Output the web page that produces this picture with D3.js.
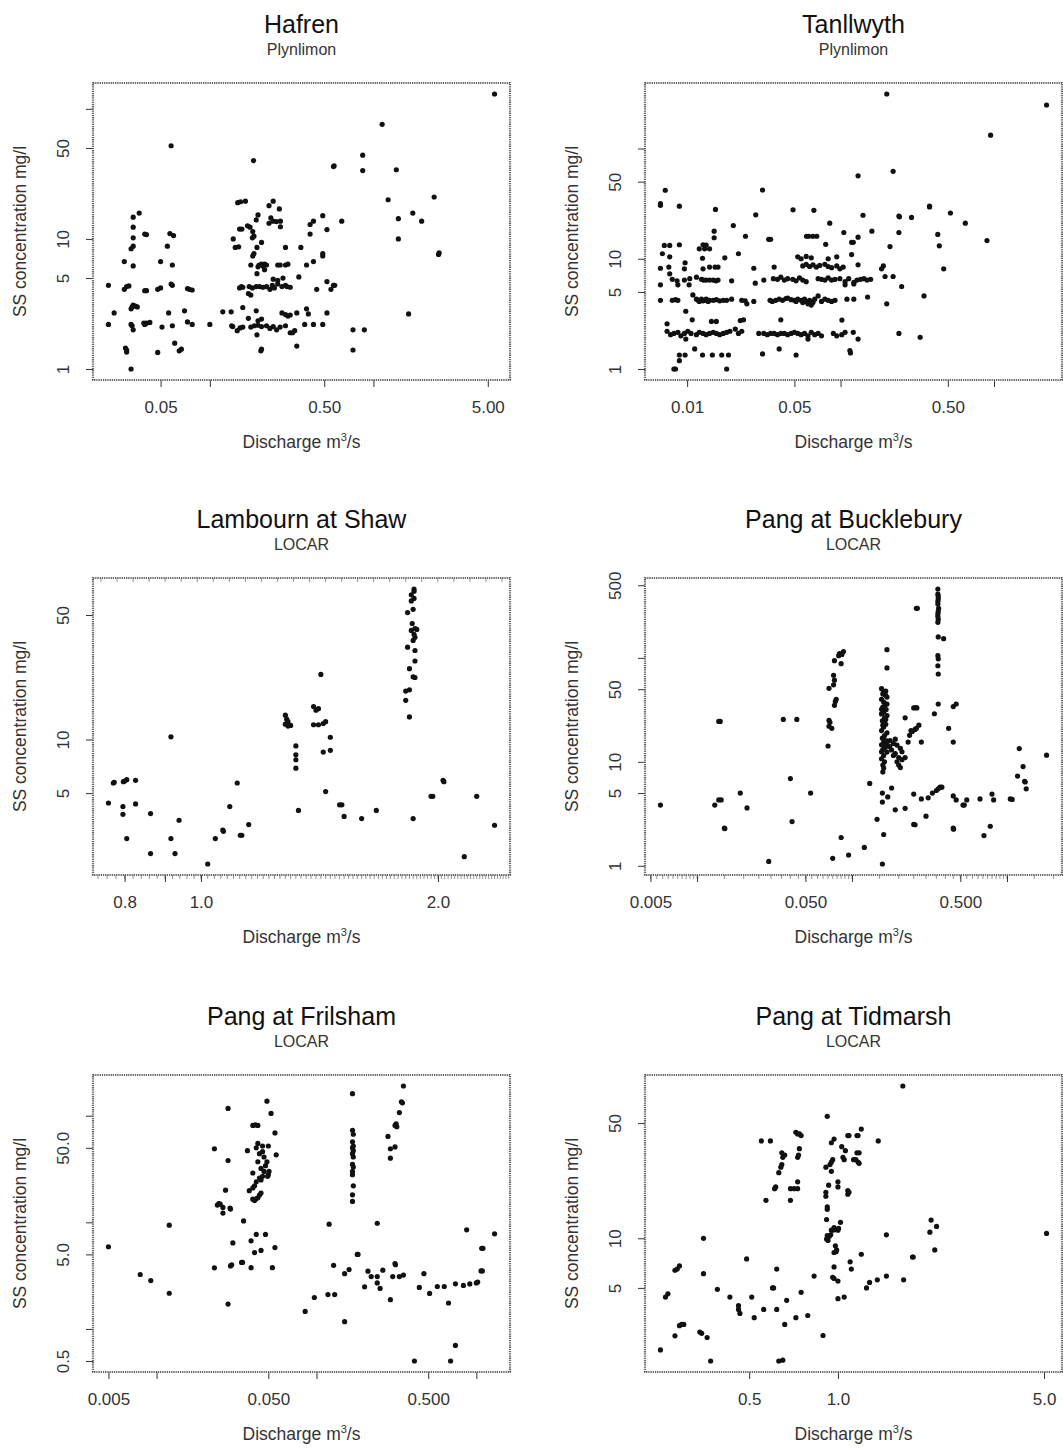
<!DOCTYPE html>
<html>
<head>
<meta charset="utf-8">
<script src="https://cdn.jsdelivr.net/npm/d3@7"></script>
<style>
  body { margin: 0; background: #fff; }
  svg { display: block; }
  text { font-family: "Liberation Sans", Arial, Helvetica, sans-serif; }
</style>
</head>
<body>
<svg id="chart" width="1063" height="1448"></svg>
<script>
// Suspended sediment (SS) concentration vs. discharge, six catchments.
// Each sample is [discharge m3/s, SS concentration mg/l].

const hafren = [
  [5.5,130],[1.13,76],[0.058,52],[0.185,40],[0.57,36],[0.575,36.5],[0.86,44],[0.86,33.5],[1.38,34],[1.23,20],
  [2.35,21],[1.42,14.3],[1.74,15.8],[1.97,13.7],[1.42,10],[1.64,2.65],[2.5,7.6],[2.52,7.8],
  [0.64,13.7],[0.52,11.8],[0.49,15.1],[0.43,13.7],[0.41,12.9],[0.41,10.9],[0.36,8.6],[0.29,8.6],[0.49,7.7],[0.49,7.4],
  [0.43,6.7],[0.39,6.3],[0.35,5.1],[0.52,4.7],[0.55,4.1],[0.57,4.4],[0.58,4.4],[0.45,4.1],[0.52,2.7],[0.49,2.2],
  [0.43,2.2],[0.38,2.2],[0.39,2.9],[0.4,2.65],[0.34,2.7],[0.3,2.55],[0.31,2.6],[0.31,1.9],[0.32,1.9],[0.33,1.97],
  [0.34,1.5],[0.75,2.0],[0.75,1.4],[0.88,2.0],[0.29,2.15],
  [0.136,2.15],[0.138,2.12],[0.147,1.97],[0.153,2.07],[0.159,2.1],[0.178,2.1],[0.187,2.15],[0.197,2.17],[0.207,2.12],
  [0.222,2.15],[0.233,2.05],[0.244,2.12],[0.256,2.0],[0.269,2.1],
  [0.12,2.75],[0.135,2.75],[0.159,2.97],[0.192,2.8],[0.276,2.7],[0.29,2.62],
  [0.172,2.45],[0.197,2.35],[0.207,2.42],[0.194,1.83],[0.205,1.38],[0.207,1.42],
  [0.152,4.2],[0.156,4.3],[0.159,4.25],[0.174,4.3],[0.182,4.2],[0.192,4.3],[0.201,4.3],[0.211,4.25],[0.222,4.3],
  [0.233,4.1],[0.241,4.4],[0.248,4.2],[0.26,4.5],[0.276,4.3],[0.29,4.4],[0.296,4.3],[0.31,4.25],
  [0.172,3.8],[0.178,3.7],[0.244,4.9],[0.26,4.8],[0.28,5.0],
  [0.178,6.3],[0.197,6.1],[0.2,6.3],[0.207,6.4],[0.211,6.2],[0.216,6.4],[0.222,6.3],[0.26,6.3],[0.269,6.3],[0.29,6.3],[0.3,6.4],
  [0.194,5.4],[0.216,5.8],[0.186,7.7],[0.183,7.4],[0.194,8.6],[0.207,9.4],[0.143,8.6],[0.15,8.7],[0.139,10],
  [0.152,11.9],[0.157,11.9],[0.176,12.3],[0.183,11.4],[0.186,10.5],[0.182,10.2],[0.17,12.6],[0.192,14],[0.197,15.3],
  [0.23,13.2],[0.236,14.5],[0.243,13.7],[0.255,13.6],[0.27,13.7],[0.27,12.4],[0.23,18],[0.244,19.5],[0.266,17],
  [0.148,19],[0.154,19.3],[0.165,19.5],
  [0.024,4.4],[0.024,2.2],[0.026,2.7],[0.03,6.7],[0.03,4.1],[0.031,4.3],[0.032,4.35],[0.031,1.4],[0.031,1.35],
  [0.0305,1.45],[0.033,2.2],[0.0335,2.15],[0.034,2.0],[0.033,2.9],[0.0335,3.0],[0.034,3.1],[0.035,3.05],[0.036,3.0],
  [0.033,8.4],[0.034,8.8],[0.034,10.2],[0.034,12.3],[0.034,14.7],[0.037,15.8],[0.034,6.2],[0.033,1.0],[0.04,10.9],
  [0.041,10.8],[0.04,2.2],[0.041,2.25],[0.043,2.28],[0.0395,2.25],[0.04,4.0],[0.041,4.0],[0.048,1.34],[0.048,4.1],
  [0.05,4.2],[0.05,6.7],[0.051,2.1],[0.055,8.8],[0.056,2.7],[0.057,11],[0.06,10.6],[0.058,4.5],[0.059,4.4],
  [0.059,6.3],[0.059,2.15],[0.061,1.58],[0.065,1.38],[0.067,1.42],[0.07,2.8],[0.073,4.15],[0.075,4.1],[0.078,4.05],
  [0.073,2.3],[0.078,2.2],[0.1,2.2]
];

const tanllwyth = [
  [0.2,312],[2.2,248],[0.95,132],[0.22,62],[0.13,56.5],[0.0072,41.8],[0.0067,31.6],[0.0067,30.5],[0.0089,30],[0.031,42],
  [0.0153,28],[0.028,25],[0.049,27.8],[0.067,27.5],[0.14,24.8],[0.38,30],[0.38,29.5],[0.52,26],[0.24,24.4],[0.242,24],
  [0.29,23.7],[0.085,21],[0.65,21],[0.02,20],[0.16,17.8],[0.24,17.3],[0.43,16.6],[0.015,17.8],[0.015,15.5],[0.024,16],
  [0.034,15],[0.035,15],[0.06,16],[0.062,16],[0.066,16],[0.07,16],[0.105,17.3],[0.118,14.1],[0.121,14.1],[0.13,15.7],
  [0.08,13.5],[0.21,12.9],[0.44,13.1],[0.9,14.6],[0.47,8.1],[0.118,10.9],[0.13,8.8],[0.19,8.6],[0.185,8.1],[0.195,6.9],
  [0.22,6.9],[0.25,5.6],[0.15,4.5],[0.2,3.9],[0.35,4.6],[0.24,2.1],[0.33,1.94],[0.115,1.47],[0.116,1.4],
  [0.0074,2.2],[0.0078,2.05],[0.0082,2.1],[0.0087,2.15],[0.0091,2.0],[0.0096,2.1],[0.0101,2.2],[0.0106,2.1],[0.0115,2.05],
  [0.012,2.15],[0.0127,2.1],[0.0133,2.05],[0.014,2.1],[0.0148,2.15],[0.0155,2.1],[0.0163,2.05],[0.0172,2.1],[0.0181,2.15],
  [0.019,2.2],[0.0206,2.3],[0.0216,2.1],[0.0227,2.2],
  [0.0293,2.1],[0.0316,2.1],[0.0333,2.05],[0.035,2.1],[0.0369,2.1],[0.0388,2.05],[0.0408,2.1],[0.043,2.1],[0.0452,2.05],
  [0.0476,2.1],[0.05,2.15],[0.0526,2.1],[0.0553,2.05],[0.0582,2.1],[0.0613,2.0],[0.0644,2.15],[0.0678,2.05],[0.0714,2.1],
  [0.0751,2.0],[0.0897,2.1],[0.0944,2.0],[0.1018,2.05],[0.107,2.15],[0.0613,1.87],[0.0098,1.87],[0.121,2.15],[0.13,1.87],[0.102,2.78],
  [0.0067,4.2],[0.008,4.2],[0.0084,4.25],[0.0087,4.2],[0.0109,4.7],[0.0115,4.3],[0.0118,4.2],[0.012,4.1],[0.0124,4.3],
  [0.0127,4.15],[0.013,4.2],[0.0133,4.3],[0.0137,4.1],[0.014,4.2],[0.0148,4.2],[0.0155,4.25],[0.0163,4.15],[0.0172,4.2],
  [0.0181,4.2],[0.0195,4.3],[0.0227,4.2],[0.0239,4.15],[0.0245,3.9],[0.0272,4.1],[0.0347,4.2],[0.0359,4.1],[0.0378,4.2],
  [0.0398,4.3],[0.0419,4.2],[0.044,4.35],[0.0452,4.4],[0.0476,4.25],[0.05,4.2],[0.0513,4.1],[0.0526,4.3],[0.0553,4.2],
  [0.0567,4.0],[0.0582,4.3],[0.0597,4.1],[0.0613,3.9],[0.0628,4.2],[0.0644,3.8],[0.0661,4.0],[0.0678,4.3],[0.0714,4.6],
  [0.0751,4.1],[0.079,4.3],[0.083,4.2],[0.0874,4.1],[0.092,4.2],[0.11,4.3],[0.122,4.3],
  [0.0077,7.3],[0.008,6.5],[0.0086,6.3],[0.0096,6.4],[0.0104,6.6],[0.0115,6.8],[0.0124,6.5],[0.0128,6.4],[0.0133,6.4],
  [0.014,6.4],[0.0148,6.4],[0.0154,6.3],[0.0159,6.4],[0.0195,6.3],[0.0278,6.0],[0.0316,6.4],[0.0365,6.6],[0.0388,6.5],
  [0.0408,6.8],[0.043,6.4],[0.0452,6.6],[0.0488,6.5],[0.0513,6.3],[0.054,6.7],[0.0567,6.4],[0.0597,6.2],[0.0714,6.6],
  [0.0751,6.5],[0.079,6.4],[0.083,6.7],[0.0874,6.4],[0.092,6.5],[0.099,6.6],[0.107,6.2],[0.113,6.6],[0.122,6.1],
  [0.128,6.4],[0.135,6.5],[0.142,6.6],[0.149,6.4],[0.157,6.5],
  [0.0067,8.2],[0.0076,8.4],[0.0096,8.1],[0.0127,8.1],[0.014,8.4],[0.0152,8.4],[0.0159,8.4],[0.0272,8.2],[0.0369,8.4],
  [0.0567,8.6],[0.0597,8.9],[0.0628,8.5],[0.0661,8.8],[0.0695,8.4],[0.0731,8.7],[0.079,8.9],[0.083,8.5],[0.0874,8.3],
  [0.0944,8.6],[0.099,8.1],[0.104,8.4],
  [0.0069,11.1],[0.0077,10.4],[0.0097,9.2],[0.0126,10.1],[0.0176,10.2],[0.0216,11.1],[0.0526,10.4],[0.0553,10.0],
  [0.0597,10.5],[0.0644,10.2],[0.083,10.0],[0.0944,10.4],
  [0.012,12.3],[0.013,12.3],[0.014,12.3],[0.0071,13.2],[0.0077,13.2],[0.0089,13.4],[0.0127,13.4],[0.0133,13.3],
  [0.0067,5.8],[0.0087,5.8],[0.0103,5.8],[0.107,5.8],[0.122,5.9],
  [0.0108,2.79],[0.0144,2.7],[0.0155,2.7],[0.0222,2.75],[0.0233,2.79],[0.0408,2.79],[0.0098,3.34],[0.0074,2.57],
  [0.0089,1.34],[0.0097,1.34],[0.0126,1.34],[0.0146,1.34],[0.0168,1.34],[0.0186,1.34],[0.031,1.37],[0.0513,1.34],
  [0.0112,1.52],[0.0398,1.52],[0.0089,1.19],[0.0082,1.0],[0.0084,1.0],[0.0181,1.0]
];

const lambourn = [
  [0.763,4.4],[0.774,5.7],[0.776,5.75],[0.797,5.8],[0.8,5.85],[0.805,5.95],[0.826,5.9],[0.796,4.2],[0.796,3.8],
  [0.826,4.35],[0.805,2.78],[0.863,3.84],[0.863,2.29],[0.916,2.78],[0.927,2.29],[0.938,3.52],[0.916,10.35],[1.02,2.0],
  [1.043,2.78],[1.066,3.1],[1.068,3.05],[1.088,4.2],[1.112,5.7],[1.122,2.9],[1.127,2.9],[1.15,3.33],
  [1.28,13.7],[1.29,12.1],[1.3,12.0],[1.29,11.9],[1.28,12.2],[1.285,13.0],[1.29,12.6],[1.32,9.2],[1.32,8.2],[1.32,7.7],
  [1.32,6.9],[1.33,4.0],
  [1.39,15.3],[1.41,14.9],[1.4,14.6],[1.42,23.2],[1.39,12.1],[1.41,12.1],[1.43,12.3],[1.44,12.6],[1.46,10.3],[1.43,8.5],
  [1.46,8.7],[1.44,5.1],[1.5,4.3],[1.51,4.3],[1.52,3.7],[1.6,3.6],[1.67,4.0],[1.86,3.6],
  [1.82,16.6],[1.82,18.7],[1.84,13.4],[1.84,19],[1.86,22.5],[1.87,22.3],[1.84,25],[1.87,27.6],[1.87,31.6],[1.83,33],
  [1.86,36],[1.87,37.5],[1.865,39],[1.85,41],[1.87,42],[1.88,41.5],[1.855,44.8],[1.83,51.6],[1.86,53.8],[1.85,60],
  [1.865,62],[1.85,65],[1.865,68],[1.865,70],
  [2.03,5.9],[2.035,5.8],[1.96,4.8],[1.97,4.8],[2.24,4.8],[2.16,2.2],[2.36,3.3]
];

const bucklebury = [
  [0.0058,3.84],[0.013,3.84],[0.0138,4.3],[0.0143,4.3],[0.0138,24.5],[0.0141,24.5],[0.015,2.3],[0.0151,2.28],[0.019,5.0],
  [0.021,3.6],[0.029,1.1],[0.036,25.6],[0.044,25.6],[0.04,6.9],[0.041,2.66],[0.054,5.0],
  [0.07,14.2],[0.071,22],[0.072,24],[0.074,21],[0.071,25],[0.077,35],[0.078,38],[0.079,40],[0.071,51],[0.076,55],
  [0.077,61],[0.076,68],[0.077,94],[0.085,88],[0.082,105],[0.083,110],[0.086,108],[0.088,115],[0.075,1.18],[0.085,1.87],
  [0.095,1.27],[0.12,1.5],[0.13,6.2],[0.145,2.8],[0.157,1.04],[0.16,2.0],[0.157,4.1],[0.157,5.0],[0.17,4.6],[0.18,5.6],
  [0.168,80],[0.168,120],
  [0.155,50.6],[0.16,46.8],[0.164,44],[0.168,42],[0.155,40],[0.16,37.6],[0.164,35.4],[0.158,33.6],[0.166,31.8],
  [0.16,30],[0.155,28.9],[0.168,27.9],[0.162,26.3],[0.157,24.8],[0.165,23],[0.16,21.6],[0.155,20],[0.168,19],
  [0.162,17.9],[0.157,16.9],[0.166,16],[0.16,15.5],[0.155,14.6],[0.164,13.8],[0.158,13.1],[0.168,12.4],[0.16,11.5],
  [0.155,10.7],[0.162,10],[0.158,9.3],[0.16,8.7],[0.158,8.0],[0.165,48],[0.158,45],[0.168,36],[0.155,32],[0.165,25.5],
  [0.158,22.5],[0.168,14.8],[0.155,12.5],
  [0.176,16],[0.185,15],[0.195,14.5],[0.205,13.5],[0.18,13],[0.19,12],[0.2,11],[0.21,10.5],[0.195,10],[0.2,9.3],
  [0.205,8.8],[0.185,11.5],[0.175,14],[0.19,16.5],[0.21,12.5],[0.22,11],
  [0.19,3.45],[0.22,3.57],[0.22,26.5],[0.25,2.5],[0.255,2.48],[0.25,4.9],[0.25,33],[0.258,33.3],[0.262,33],[0.24,20],
  [0.245,19.6],[0.255,20.5],[0.26,21],[0.27,22.5],[0.28,15.5],[0.23,15.5],[0.235,18],[0.26,300],[0.264,300],[0.28,4.4],
  [0.31,4.5],[0.3,3.0],[0.34,29],[0.36,36],[0.33,5.0],[0.35,5.3],[0.36,5.5],[0.37,5.7],[0.38,5.7],
  [0.358,460],[0.358,410],[0.36,370],[0.358,330],[0.362,300],[0.358,265],[0.36,235],[0.358,220],[0.36,159],[0.39,153],
  [0.358,105],[0.36,98],[0.358,84],[0.36,70],[0.358,250],[0.36,280],[0.358,350],[0.36,390],
  [0.42,21],[0.45,34],[0.47,36],[0.45,15.5],[0.45,4.7],[0.47,4.3],[0.45,2.3],[0.452,2.25],[0.52,3.84],[0.53,3.84],
  [0.55,4.3],[0.67,4.4],[0.78,2.4],[0.71,1.95],[0.8,4.9],[0.82,4.3],[1.05,4.4],[1.08,4.35],[1.17,7.3],[1.2,13.4],
  [1.27,9.0],[1.3,6.5],[1.31,6.4],[1.33,5.5],[1.8,11.6]
];

const frilsham = [
  [0.005,5.9],[0.0079,3.24],[0.0092,2.84],[0.012,9.4],[0.012,2.16],[0.023,49],[0.023,3.74],[0.024,14.5],[0.0245,15],
  [0.025,14.8],[0.026,13.8],[0.026,12.2],[0.027,20],[0.028,117],[0.028,38],[0.028,1.71],[0.029,13.3],[0.0288,13.6],
  [0.029,3.9],[0.0295,4.0],[0.03,6.4],[0.034,4.2],[0.0345,4.2],[0.035,10.3],[0.037,47],[0.038,19.8],[0.04,81],
  [0.0415,82],[0.043,81],[0.039,6.7],[0.04,16.5],[0.041,16],[0.042,16.6],[0.043,17],[0.044,18],[0.039,3.75],[0.04,21],
  [0.041,22],[0.042,24],[0.044,26],[0.04,29],[0.041,5.2],[0.042,7.7],[0.048,7.7],[0.045,18.8],[0.045,5.45],
  [0.045,25],[0.046,27],[0.047,30],[0.048,34],[0.049,37],[0.047,41],[0.046,46],[0.046,52],[0.043,55],[0.042,50],
  [0.044,44],[0.045,32],[0.043,37],
  [0.049,137],[0.05,28],[0.0505,30],[0.0495,27],[0.05,52],[0.052,105],[0.053,3.75],[0.055,69],[0.055,5.8],[0.056,43],
  [0.085,1.46],[0.097,1.97],[0.12,9.6],[0.118,2.1],[0.13,2.1],[0.128,3.95],[0.15,1.17],[0.15,3.3],[0.16,3.6],[0.168,161],
  [0.168,73],[0.17,67],[0.168,57],[0.17,52],[0.168,50],[0.17,47],[0.168,44],[0.17,41],[0.168,35],[0.17,33],
  [0.168,30],[0.168,28],[0.17,22],[0.168,18.1],[0.168,15.7],
  [0.18,5.0],[0.182,5.0],[0.2,2.48],[0.21,3.48],[0.22,3.1],[0.24,3.1],[0.24,2.7],[0.25,2.4],[0.24,9.8],[0.26,3.56],
  [0.28,64],[0.29,49],[0.29,40],[0.29,1.88],[0.3,3.1],[0.31,51],[0.31,81],[0.315,84],[0.318,79],[0.33,107],
  [0.34,135],[0.345,132],[0.35,190],[0.31,4.1],[0.312,4.0],[0.33,3.1],[0.35,3.2],[0.41,0.5],[0.44,2.45],[0.47,3.3],
  [0.51,2.15],[0.57,2.5],[0.63,2.5],[0.67,1.75],[0.69,0.5],[0.74,0.7],[0.74,2.65],[0.83,2.56],[0.91,2.64],[0.87,8.5],
  [1.0,2.7],[1.02,2.75],[1.07,3.5],[1.09,3.5],[1.08,5.7],[1.1,5.7],[1.3,7.8]
];

const tidmarsh = [
  [0.25,2.1],[0.26,4.4],[0.265,4.6],[0.28,2.56],[0.28,6.4],[0.285,6.5],[0.29,6.8],[0.29,2.95],[0.295,3.0],[0.3,3.0],
  [0.34,2.7],[0.345,2.65],[0.35,10],[0.35,6.1],[0.36,2.5],[0.37,1.8],[0.39,4.9],[0.43,4.4],[0.46,3.9],[0.46,3.7],
  [0.465,3.5],[0.49,7.5],[0.51,4.4],[0.52,3.3],[0.55,39],[0.59,39],[0.56,3.7],[0.57,17],[0.6,5],[0.605,5],
  [0.61,20],[0.615,20.5],[0.62,6.5],[0.62,3.7],[0.63,1.8],[0.65,1.82],[0.63,25],[0.64,27],[0.645,28],[0.65,31],
  [0.645,33],[0.66,32],[0.67,4.2],[0.66,3.0],[0.69,17],[0.69,20],[0.71,20],[0.73,20],[0.72,3.3],[0.73,22],
  [0.73,31],[0.735,32],[0.74,35],[0.72,44],[0.74,43],[0.75,42],[0.73,43],[0.75,4.7],[0.79,3.4],[0.83,5.9],
  [0.89,2.57],[0.92,55],
  [0.91,27],[0.91,19],[0.91,18],[0.92,15.5],[0.92,15],[0.915,13],[0.92,10.4],[0.915,9.9],[0.925,9.7],[0.93,21],
  [0.95,38],[0.97,40],[0.94,28],[0.95,29],[0.96,30],[0.95,25.5],[0.96,5.8],[0.97,5.7],[0.97,8.2],[0.985,8.3],
  [0.98,9],[0.99,8.5],[0.97,6.7],[1.0,5.5],[1.0,4.3],[1.05,4.4],
  [0.95,11.2],[0.96,11.2],[0.97,11.6],[0.98,11.3],[1.0,11.2],[1.005,11.5],[1.02,12.5],[0.945,10.5],[0.935,10.3],
  [1.0,22],[1.0,20.5],[1.03,36],[1.04,31],[1.05,30],[1.06,34],[1.08,19.5],[1.08,18.5],[1.09,19],[1.08,42],
  [1.09,42],[1.1,7.2],[1.11,6.5],[1.13,30],[1.15,30],[1.17,29],[1.18,28.5],[1.16,33],[1.18,33],[1.16,42],
  [1.17,42],[1.2,46],[1.2,8],[1.25,5.0],[1.28,5.4],[1.36,5.6],[1.37,39],[1.46,5.9],[1.46,10.5],[1.66,84],
  [1.67,5.6],[1.79,7.7],[1.8,7.7],[2.05,10.9],[2.07,12.9],[2.16,11.8],[2.13,8.5],[5.1,10.7]
];

// Tick values and their labels (empty label = unlabelled tick)
const hafrenXTicks = [0.05, 0.1, 0.5, 1, 5],          hafrenXLabels = ["0.05", "", "0.50", "", "5.00"];
const hafrenYTicks = [1, 5, 10, 50, 100],             hafrenYLabels = ["1", "5", "10", "50", ""];
const tanllwythXTicks = [0.01, 0.05, 0.1, 0.5, 1],    tanllwythXLabels = ["0.01", "0.05", "", "0.50", ""];
const tanllwythYTicks = [1, 5, 10, 50, 100],          tanllwythYLabels = ["1", "5", "10", "50", ""];
const lambournXTicks = [0.8, 0.9, 1.0, 2.0],          lambournXLabels = ["0.8", "", "1.0", "2.0"];
const lambournYTicks = [5, 10, 50],                   lambournYLabels = ["5", "10", "50"];
const buckleburyXTicks = [0.005, 0.01, 0.05, 0.1, 0.5, 1], buckleburyXLabels = ["0.005", "", "0.050", "", "0.500", ""];
const buckleburyYTicks = [1, 5, 10, 50, 100, 500],    buckleburyYLabels = ["1", "5", "10", "50", "", "500"];
const frilshamXTicks = [0.005, 0.01, 0.05, 0.1, 0.5, 1], frilshamXLabels = ["0.005", "", "0.050", "", "0.500", ""];
const frilshamYTicks = [0.5, 1, 5, 10, 50, 100],      frilshamYLabels = ["0.5", "", "5.0", "", "50.0", ""];
const tidmarshXTicks = [0.5, 1, 5],                   tidmarshXLabels = ["0.5", "1.0", "5.0"];
const tidmarshYTicks = [5, 10, 50],                   tidmarshYLabels = ["5", "10", "50"];

const panels = [
  { title: "Hafren", sub: "Plynlimon", data: hafren, xt: hafrenXTicks, xl: hafrenXLabels, yt: hafrenYTicks, yl: hafrenYLabels },
  { title: "Tanllwyth", sub: "Plynlimon", data: tanllwyth, xt: tanllwythXTicks, xl: tanllwythXLabels, yt: tanllwythYTicks, yl: tanllwythYLabels },
  { title: "Lambourn at Shaw", sub: "LOCAR", data: lambourn, xt: lambournXTicks, xl: lambournXLabels, yt: lambournYTicks, yl: lambournYLabels, minor: "linear", top: true },
  { title: "Pang at Bucklebury", sub: "LOCAR", data: bucklebury, xt: buckleburyXTicks, xl: buckleburyXLabels, yt: buckleburyYTicks, yl: buckleburyYLabels, minor: "log" },
  { title: "Pang at Frilsham", sub: "LOCAR", data: frilsham, xt: frilshamXTicks, xl: frilshamXLabels, yt: frilshamYTicks, yl: frilshamYLabels },
  { title: "Pang at Tidmarsh", sub: "LOCAR", data: tidmarsh, xt: tidmarshXTicks, xl: tidmarshXLabels, yt: tidmarshYTicks, yl: tidmarshYLabels }
];

const svg = d3.select("#chart");
const boxW = 417, boxH = 297;
const colX = [93, 645], rowY = [83, 578, 1075];

// log-axis domain padded by 4% of the range on each side
function padLog(ext) {
  const a = Math.log10(ext[0]), b = Math.log10(ext[1]), p = (b - a) * 0.04;
  return [Math.pow(10, a - p), Math.pow(10, b + p)];
}

panels.forEach((p, i) => {
  const x0 = colX[i % 2], y0 = rowY[Math.floor(i / 2)];
  const g = svg.append("g").attr("transform", `translate(${x0},${y0})`);

  const x = d3.scaleLog().domain(padLog(d3.extent(p.data, d => d[0]))).range([0, boxW]);
  const y = d3.scaleLog().domain(padLog(d3.extent(p.data, d => d[1]))).range([boxH, 0]);

  // titles
  g.append("text").attr("x", boxW / 2).attr("y", -50).attr("text-anchor", "middle")
    .attr("font-size", 25).attr("fill", "#111").text(p.title);
  g.append("text").attr("x", boxW / 2).attr("y", -28).attr("text-anchor", "middle")
    .attr("font-size", 16).attr("fill", "#333").text(p.sub);

  // minor ticks along the discharge axis
  let minor = [];
  const [dx0, dx1] = x.domain();
  if (p.minor === "linear") {
    minor = d3.range(Math.ceil(dx0 * 50) / 50, dx1, 0.02);
  } else if (p.minor === "log") {
    for (let e = Math.floor(Math.log10(dx0)); e <= Math.ceil(Math.log10(dx1)); e++) {
      d3.range(1, 10, 0.5).forEach(m => { const v = m * Math.pow(10, e); if (v >= dx0 && v <= dx1) minor.push(v); });
    }
  }
  g.append("g").selectAll("line").data(minor).join("line")
    .attr("x1", d => x(d)).attr("x2", d => x(d)).attr("y1", boxH).attr("y2", boxH + 4)
    .attr("stroke", "#777").attr("stroke-width", 0.8);

  if (p.top) {
    const lx0 = Math.log10(dx0), lx1 = Math.log10(dx1), n = 26;
    const topVals = d3.range(n).map(k => Math.pow(10, lx0 + (k + 0.5) * (lx1 - lx0) / n));
    g.append("g").selectAll("line").data(topVals).join("line")
      .attr("x1", d => x(d)).attr("x2", d => x(d)).attr("y1", 0).attr("y2", 4)
      .attr("stroke", "#777").attr("stroke-width", 0.8);
  }

  // x axis
  const xa = g.append("g").attr("transform", `translate(0,${boxH})`)
    .call(d3.axisBottom(x).tickValues(p.xt).tickFormat((d, j) => p.xl[j]).tickSize(7).tickPadding(14));
  xa.select(".domain").remove();
  xa.selectAll("line").attr("stroke", "#333");
  xa.selectAll("text").attr("font-size", 17).attr("fill", "#333").attr("font-family", null);

  // y axis with labels parallel to the axis
  const ya = g.append("g")
    .call(d3.axisLeft(y).tickValues(p.yt).tickFormat((d, j) => p.yl[j]).tickSize(7));
  ya.select(".domain").remove();
  ya.selectAll("line").attr("stroke", "#333");
  ya.selectAll("text").attr("font-size", 17).attr("fill", "#333").attr("font-family", null)
    .attr("transform", "rotate(-90)").attr("text-anchor", "middle")
    .attr("x", 0).attr("y", -24).attr("dy", null);

  // axis titles
  const xt = g.append("text").attr("x", boxW / 2).attr("y", boxH + 68).attr("text-anchor", "middle")
    .attr("font-size", 17.5).attr("fill", "#333");
  xt.append("tspan").text("Discharge m");
  xt.append("tspan").attr("font-size", 11).attr("dy", -7).text("3");
  xt.append("tspan").attr("dy", 7).text("/s");

  g.append("text").attr("transform", `translate(-67,${boxH / 2}) rotate(-90)`)
    .attr("text-anchor", "middle").attr("font-size", 17.5).attr("fill", "#333")
    .text("SS concentration mg/l");

  // points
  g.append("g").selectAll("circle").data(p.data).join("circle")
    .attr("cx", d => x(d[0])).attr("cy", d => y(d[1])).attr("r", 2.6).attr("fill", "#111");

  // plot frame
  g.append("rect").attr("x", 0).attr("y", 0).attr("width", boxW).attr("height", boxH)
    .attr("fill", "none").attr("stroke", "#666").attr("stroke-width", 2.2)
    .attr("stroke-dasharray", "1.3 0.9");
});
</script>
</body>
</html>
